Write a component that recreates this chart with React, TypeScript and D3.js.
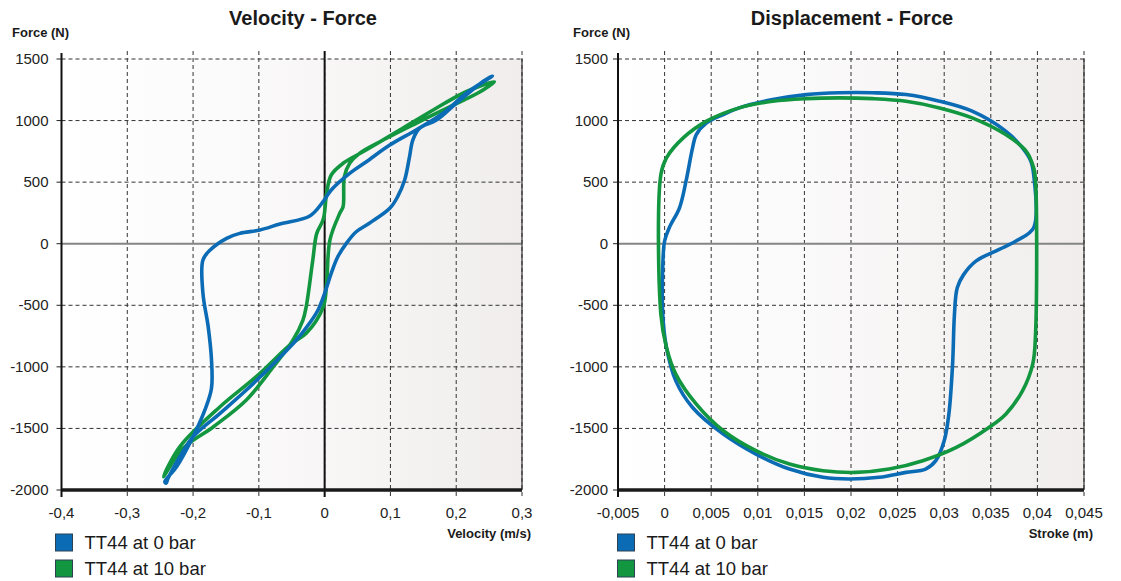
import React from 'react';
import * as d3 from 'd3';

// ---------- data ----------
const forceTicks = [1500, 1000, 500, 0, -500, -1000, -1500, -2000];
const velocityTicks = [-0.4, -0.3, -0.2, -0.1, 0, 0.1, 0.2, 0.3];
const strokeTicks = [-0.005, 0, 0.005, 0.01, 0.015, 0.02, 0.025, 0.03, 0.035, 0.04, 0.045];
const seriesNames = ['TT44 at 0 bar', 'TT44 at 10 bar'];
const seriesColors = ['#0b6cb5', '#12963f'];

// Velocity (m/s) , Force (N) — TT44 at 0 bar
const vfBlue: [number, number][] = [
  [-0.241, -1945], [-0.243, -1933], [-0.225, -1811], [-0.2, -1567], [-0.182, -1350], [-0.172, -1174],
  [-0.172, -944], [-0.177, -674], [-0.185, -403], [-0.185, -132], [-0.174, -51], [-0.149, 44],
  [-0.129, 84], [-0.0985, 111], [-0.068, 160], [-0.0226, 225], [-0.0024, 341], [0.01, 436],
  [0.038, 571], [0.0635, 666], [0.099, 801], [0.139, 923], [0.18, 1059], [0.215, 1221], [0.255, 1362],
  [0.243, 1325], [0.2, 1140], [0.17, 1004], [0.144, 937], [0.134, 842], [0.129, 706], [0.1216, 517],
  [0.111, 382], [0.099, 287], [0.068, 166], [0.048, 97], [0.033, 3], [0.02, -106], [0.01, -240],
  [0.0, -403], [-0.01, -538], [-0.023, -646], [-0.043, -782], [-0.075, -960], [-0.119, -1188],
  [-0.159, -1377], [-0.2, -1567], [-0.22, -1730], [-0.238, -1905],
];
// TT44 at 10 bar
const vfGreen: [number, number][] = [
  [-0.245, -1892], [-0.215, -1661], [-0.169, -1486], [-0.119, -1269], [-0.078, -999], [-0.048, -782],
  [-0.033, -620], [-0.028, -511], [-0.018, -132], [-0.012, 84], [-0.002, 200], [0.003, 409],
  [0.01, 558], [0.028, 653], [0.063, 761], [0.114, 923], [0.165, 1086], [0.215, 1234], [0.258, 1315],
  [0.235, 1230], [0.19, 1112], [0.139, 978], [0.089, 842], [0.053, 734], [0.038, 653], [0.03, 544],
  [0.028, 300], [0.023, 247], [0.008, 30], [0.003, -322], [-0.002, -511], [-0.028, -728],
  [-0.05, -810], [-0.104, -1080], [-0.159, -1324], [-0.22, -1648],
];

// Stroke (m) , Force (N) — TT44 at 0 bar
const dfBlue: [number, number][] = [
  [0.0396, 130], [0.0396, 562], [0.0393, 670], [0.0384, 778], [0.0366, 914], [0.033, 1076],
  [0.0295, 1157], [0.0259, 1211], [0.0223, 1226], [0.0188, 1226], [0.0152, 1211], [0.0116, 1170],
  [0.008, 1103], [0.0063, 1049], [0.0045, 981], [0.0034, 886], [0.003, 778], [0.0023, 508],
  [0.0016, 292], [0.0005, 130], [0.0, 22], [-0.0002, -195], [-0.0002, -573], [0.0002, -843],
  [0.0012, -1114], [0.003, -1330], [0.0063, -1546], [0.0098, -1708], [0.0134, -1830], [0.017, -1897],
  [0.0198, -1911], [0.023, -1897], [0.0259, -1857], [0.028, -1830], [0.0291, -1762], [0.03, -1600],
  [0.0305, -1384], [0.0309, -978], [0.0311, -573], [0.0314, -357], [0.0321, -249], [0.0334, -141],
  [0.0359, -46], [0.0377, 22],
];
// TT44 at 10 bar
const dfGreen: [number, number][] = [
  [-0.0004, -573], [-0.0004, 562], [0.0002, 697], [0.002, 859], [0.0045, 995], [0.008, 1103],
  [0.0116, 1157], [0.0152, 1178], [0.0188, 1184], [0.0223, 1178], [0.0259, 1157], [0.0295, 1103],
  [0.033, 1022], [0.0366, 886], [0.0388, 751], [0.0396, 616], [0.0398, 508], [0.0398, -735],
  [0.0395, -978], [0.0384, -1195], [0.0366, -1384], [0.0348, -1492], [0.0313, -1654], [0.0277, -1762],
  [0.0241, -1830], [0.0205, -1857], [0.017, -1843], [0.0134, -1789], [0.0098, -1681], [0.0063, -1519],
  [0.0034, -1303], [0.0012, -1059], [0.0002, -843],
];

const FONT = '"Liberation Sans", Arial, Helvetica, sans-serif';
const fmt = (v: number) => String(v).replace('.', ',');

type PanelProps = {
  id: string;
  title: string;
  titleX: number;
  xTitle: string;
  xTicks: number[];
  x0: number;
  x1: number;
  series: [number, number][][];
  order: number[];
  zeroX: boolean;
  yLabelGap: number;
  forceLabelX: number;
  legendX: number;
};

const TOP = 59;
const BOTTOM = 490;

function Panel({ id, title, titleX, xTitle, xTicks, x0, x1, series, order, zeroX, yLabelGap, forceLabelX, legendX }: PanelProps) {
  const xs = d3.scaleLinear().domain([xTicks[0], xTicks[xTicks.length - 1]]).range([x0, x1]);
  const ys = d3.scaleLinear().domain([-2000, 1500]).range([BOTTOM, TOP]);
  const line = d3
    .line<[number, number]>()
    .x((d) => xs(d[0]))
    .y((d) => ys(d[1]))
    .curve(d3.curveCatmullRomClosed.alpha(0.5));
  const dash = '4,3';
  return (
    <g>
      <defs>
        <linearGradient id={id + 'bg'} x1="0" x2="1" y1="0" y2="0">
          <stop offset="0" stopColor="#ffffff" />
          <stop offset="0.4" stopColor="#fbfafa" />
          <stop offset="1" stopColor="#f0edec" />
        </linearGradient>
      </defs>
      <rect x={x0} y={TOP} width={x1 - x0} height={BOTTOM - TOP} fill={`url(#${id}bg)`} />
      {/* horizontal grid */}
      {forceTicks.map((t) => (
        <g key={'h' + t}>
          {t !== 0 && t !== -2000 && (
            <line x1={x0} x2={x1} y1={ys(t)} y2={ys(t)} stroke="#333" strokeWidth={1} strokeDasharray={dash} />
          )}
          <line x1={x0 - 5} x2={x0} y1={ys(t)} y2={ys(t)} stroke="#222" strokeWidth={1} />
          <text x={x0 - yLabelGap} y={ys(t) + 5} textAnchor="end" fontSize={15} fill="#222" fontFamily={FONT}>
            {fmt(t)}
          </text>
        </g>
      ))}
      {/* vertical grid */}
      {xTicks.map((t, i) => (
        <g key={'v' + t}>
          {i > 0 && (
            <line x1={xs(t)} x2={xs(t)} y1={51} y2={497} stroke="#333" strokeWidth={1} strokeDasharray={dash} />
          )}
          <text x={xs(t)} y={518} textAnchor="middle" fontSize={15} fill="#222" fontFamily={FONT}>
            {fmt(t)}
          </text>
        </g>
      ))}
      {/* zero force line */}
      <line x1={x0} x2={x1} y1={ys(0)} y2={ys(0)} stroke="#858585" strokeWidth={2} />
      {zeroX && <line x1={xs(0)} x2={xs(0)} y1={51} y2={497} stroke="#111" strokeWidth={2} />}
      {/* right border */}
      <line x1={x1} x2={x1} y1={TOP} y2={BOTTOM} stroke="#333" strokeWidth={1.2} />
      {/* bottom thick line */}
      <line x1={x0} x2={x1} y1={BOTTOM} y2={BOTTOM} stroke="#1a1a1a" strokeWidth={3.5} />
      {/* y axis */}
      <line x1={x0} x2={x0} y1={53} y2={497} stroke="#111" strokeWidth={2} />
      {/* curves */}
      {order.map((i) => (
        <path key={'s' + i} d={line(series[i]) || ''} fill="none" stroke={seriesColors[i]} strokeWidth={3.6} strokeLinejoin="round" />
      ))}
      {/* titles */}
      <text x={titleX} y={25} textAnchor="middle" fontSize={20} fontWeight="bold" fill="#1a1a1a" fontFamily={FONT}>
        {title}
      </text>
      <text x={forceLabelX} y={37} fontSize={13} fontWeight="bold" fill="#1a1a1a" fontFamily={FONT}>
        Force (N)
      </text>
      <text x={x1 + 9} y={538} textAnchor="end" fontSize={13} fontWeight="bold" fill="#1a1a1a" fontFamily={FONT}>
        {xTitle}
      </text>
      {/* legend */}
      {seriesNames.map((n, i) => (
        <g key={'l' + i}>
          <rect x={legendX} y={534 + i * 26} width={17} height={17} fill={seriesColors[i]} stroke="#2d4256" strokeWidth={1} />
          <text x={legendX + 29} y={549 + i * 26} fontSize={18.5} fill="#1a1a1a" fontFamily={FONT}>
            {n}
          </text>
        </g>
      ))}
    </g>
  );
}

export default function App() {
  return (
    <div style={{ position: 'absolute', left: 0, top: 0 }}>
      <svg width={1121} height={581} style={{ display: 'block', background: '#ffffff' }}>
        <Panel
          id="vf"
          title="Velocity - Force"
          titleX={303}
          xTitle="Velocity (m/s)"
          xTicks={velocityTicks}
          x0={61.5}
          x1={522}
          series={[vfBlue, vfGreen]}
          order={[1, 0]}
          zeroX={true}
          yLabelGap={13}
          forceLabelX={12}
          legendX={55.5}
        />
        <Panel
          id="df"
          title="Displacement - Force"
          titleX={852}
          xTitle="Stroke (m)"
          xTicks={strokeTicks}
          x0={618}
          x1={1084}
          series={[dfBlue, dfGreen]}
          order={[0, 1]}
          zeroX={false}
          yLabelGap={10}
          forceLabelX={573}
          legendX={617.5}
        />
      </svg>
    </div>
  );
}
